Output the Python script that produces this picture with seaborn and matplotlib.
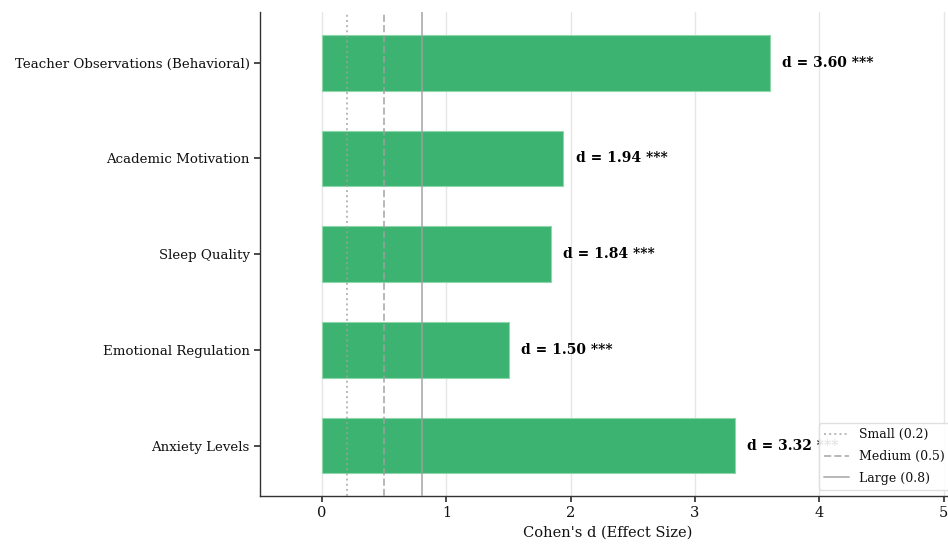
import matplotlib
matplotlib.use("Agg")
import matplotlib.pyplot as plt
import seaborn as sns
import pandas as pd

# Effect sizes per outcome measure (top to bottom)
outcomes = [
    "Teacher Observations (Behavioral)",
    "Academic Motivation",
    "Sleep Quality",
    "Emotional Regulation",
    "Anxiety Levels",
]
cohens_d = [3.60, 1.94, 1.84, 1.50, 3.32]
significance = ["***", "***", "***", "***", "***"]

# Conventional effect size thresholds
threshold_names = ["Small (0.2)", "Medium (0.5)", "Large (0.8)"]
threshold_values = [0.2, 0.5, 0.8]
threshold_styles = [":", "--", "-"]

sns.set_theme(style="white")
plt.rcParams["font.family"] = ["DejaVu Serif"]
plt.rcParams["text.color"] = "#111111"
plt.rcParams["axes.labelcolor"] = "#111111"
plt.rcParams["xtick.color"] = "#111111"
plt.rcParams["ytick.color"] = "#111111"

df = pd.DataFrame({"Outcome": outcomes, "d": cohens_d})

fig = plt.figure(figsize=(9.48, 5.5), dpi=100)
ax = fig.add_axes([260 / 948, 1 - 496 / 550, (956 - 260) / 948, (496 - 12) / 550])

ax.grid(axis="x", color="#e6e6e6", linewidth=1.0, zorder=0)
ax.set_axisbelow(True)

sns.barplot(data=df, x="d", y="Outcome", order=outcomes, orient="h",
            color="#3cb371", saturation=1, width=0.58,
            edgecolor="#8fd6a8", linewidth=0.8, ax=ax, zorder=2)

for name, val, ls in zip(threshold_names, threshold_values, threshold_styles):
    ax.axvline(val, color="#a0a0a0", linestyle=ls, linewidth=1.4,
               alpha=0.75, label=name, zorder=3)

for i, (val, sig) in enumerate(zip(cohens_d, significance)):
    ax.text(val + 0.1, i, f"d = {val:.2f} {sig}", va="center", ha="left",
            fontsize=10, fontweight="bold", color="black", zorder=4)

ax.set_xlim(-0.5, 5.1)
ax.set_ylim(4.525, -0.53)
ax.set_xticks([0, 1, 2, 3, 4, 5])
ax.set_xlabel("Cohen's d (Effect Size)", fontsize=10.5)
ax.set_ylabel("")
ax.tick_params(axis="x", labelsize=10.5, length=4, color="#333333", bottom=True)
ax.tick_params(axis="y", labelsize=9.6, length=4, color="#333333", left=True)

for side in ["top", "right"]:
    ax.spines[side].set_visible(False)
for side in ["left", "bottom"]:
    ax.spines[side].set_color("#333333")
    ax.spines[side].set_linewidth(1.0)

leg = ax.legend(loc="lower right", fontsize=9, frameon=True,
                framealpha=0.9, borderaxespad=0.5, handlelength=2.0,
                labelspacing=0.7)
leg.get_frame().set_edgecolor("#dddddd")

fig.savefig("out.png", dpi=100)
